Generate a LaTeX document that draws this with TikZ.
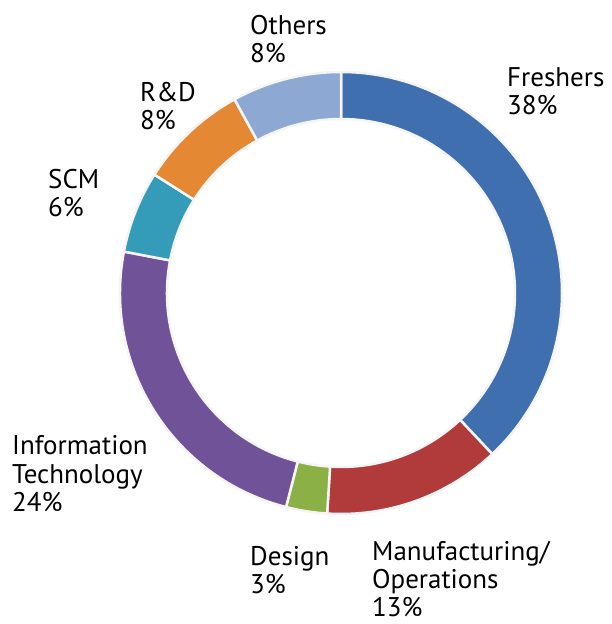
\documentclass[tikz,border=0pt]{standalone}
\usepackage{fontspec}
\setmainfont{PT Sans}

\definecolor{freshblue}{RGB}{63,111,175}
\definecolor{manured}{RGB}{177,58,58}
\definecolor{designgreen}{RGB}{139,176,69}
\definecolor{itpurple}{RGB}{111,82,152}
\definecolor{scmteal}{RGB}{52,155,184}
\definecolor{rdorange}{RGB}{229,136,52}
\definecolor{otherblue}{RGB}{141,168,211}

\tikzset{
  slice/.style={draw=white!92!gray, line width=2.5pt, line join=round},
  lbl/.style={anchor=base west, align=left, inner sep=0pt,
    font=\fontsize{27}{28.5}\selectfont}
}

\begin{document}
\begin{tikzpicture}[x=1pt,y=1pt]

\useasboundingbox (0,0) rectangle (612,624);

% ring, clockwise from the top
\begin{scope}[shift={(341,331)}]
\fill[slice, fill=freshblue] (90:221) arc[start angle=90, end angle=-46.8, radius=221]
  -- (-46.8:174) arc[start angle=-46.8, end angle=90, radius=174] -- cycle;
\fill[slice, fill=manured] (-46.8:221) arc[start angle=-46.8, end angle=-93.6, radius=221]
  -- (-93.6:174) arc[start angle=-93.6, end angle=-46.8, radius=174] -- cycle;
\fill[slice, fill=designgreen] (-93.6:221) arc[start angle=-93.6, end angle=-104.4, radius=221]
  -- (-104.4:174) arc[start angle=-104.4, end angle=-93.6, radius=174] -- cycle;
\fill[slice, fill=itpurple] (-104.4:221) arc[start angle=-104.4, end angle=-190.8, radius=221]
  -- (-190.8:174) arc[start angle=-190.8, end angle=-104.4, radius=174] -- cycle;
\fill[slice, fill=scmteal] (-190.8:221) arc[start angle=-190.8, end angle=-212.4, radius=221]
  -- (-212.4:174) arc[start angle=-212.4, end angle=-190.8, radius=174] -- cycle;
\fill[slice, fill=rdorange] (-212.4:221) arc[start angle=-212.4, end angle=-241.2, radius=221]
  -- (-241.2:174) arc[start angle=-241.2, end angle=-212.4, radius=174] -- cycle;
\fill[slice, fill=otherblue] (-241.2:221) arc[start angle=-241.2, end angle=-270, radius=221]
  -- (-270:174) arc[start angle=-270, end angle=-241.2, radius=174] -- cycle;
\end{scope}

% labels, placed at the baseline of their last line
\node[lbl] (fresh) at (507,509) {Freshers\\38\%};
\node[lbl] (manu) at (372,7) {Manufacturing/\\Operations\\13\%};
\node[lbl] (design) at (250,30) {Design\\3\%};
\node[lbl] (it) at (12,112) {Information\\Technology\\24\%};
\node[lbl] (scm) at (48,407) {SCM\\6\%};
\node[lbl] (rd) at (140,494) {R\&D\\8\%};
\node[lbl] (others) at (250,561) {Others\\8\%};

\end{tikzpicture}
\end{document}
